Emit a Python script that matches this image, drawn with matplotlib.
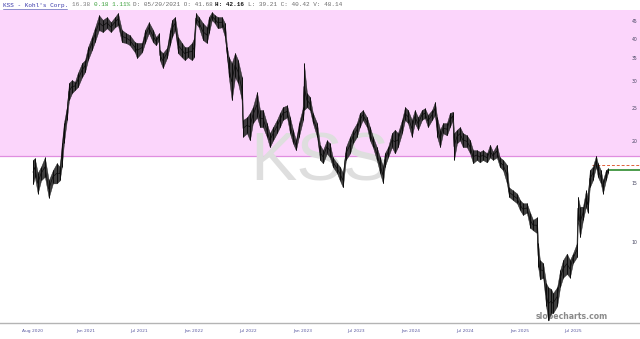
import numpy as np
import pandas as pd
import matplotlib
matplotlib.use('Agg')
import matplotlib.pyplot as plt
from matplotlib.lines import Line2D

# KSS price path (high / low per sample)
dates = [
	'2020-07-08', '2020-07-14', '2020-07-24', '2020-08-04', '2020-08-17', '2020-08-30', '2020-09-13', '2020-09-26',
	'2020-10-06', '2020-10-13', '2020-10-20', '2020-10-30', '2020-11-06', '2020-11-16', '2020-11-26', '2020-12-06',
	'2020-12-20', '2020-12-30', '2021-01-09', '2021-01-22', '2021-02-01', '2021-02-15', '2021-02-28', '2021-03-14',
	'2021-03-27', '2021-04-10', '2021-04-20', '2021-05-03', '2021-05-17', '2021-05-30', '2021-06-16', '2021-06-23',
	'2021-07-10', '2021-07-20', '2021-08-02', '2021-08-16', '2021-08-26', '2021-09-05', '2021-09-08', '2021-09-18',
	'2021-10-02', '2021-10-12', '2021-10-19', '2021-10-29', '2021-11-08', '2021-11-21', '2021-12-01', '2021-12-11',
	'2021-12-25', '2022-01-01', '2022-01-07', '2022-01-17', '2022-01-31', '2022-02-13', '2022-02-20', '2022-03-02',
	'2022-03-12', '2022-03-22', '2022-04-05', '2022-04-15', '2022-04-22', '2022-04-28', '2022-05-08', '2022-05-19',
	'2022-05-29', '2022-06-11', '2022-06-15', '2022-06-28', '2022-07-08', '2022-07-18', '2022-08-01', '2022-08-11',
	'2022-08-21', '2022-09-03', '2022-09-13', '2022-09-24', '2022-10-07', '2022-10-17', '2022-10-27', '2022-11-10',
	'2022-11-20', '2022-11-30', '2022-12-10', '2022-12-20', '2023-01-03', '2023-01-06', '2023-01-16', '2023-01-26',
	'2023-02-05', '2023-02-19', '2023-03-01', '2023-03-11', '2023-03-24', '2023-04-03', '2023-04-13', '2023-04-27',
	'2023-05-07', '2023-05-17', '2023-05-27', '2023-06-10', '2023-06-20', '2023-07-03', '2023-07-13', '2023-07-23',
	'2023-08-06', '2023-08-16', '2023-08-26', '2023-09-08', '2023-09-19', '2023-09-29', '2023-10-05', '2023-10-16',
	'2023-10-29', '2023-11-08', '2023-11-18', '2023-12-02', '2023-12-12', '2023-12-22', '2024-01-04', '2024-01-14',
	'2024-01-25', '2024-02-07', '2024-02-17', '2024-02-27', '2024-03-12', '2024-03-22', '2024-03-29', '2024-04-08',
	'2024-04-18', '2024-05-01', '2024-05-11', '2024-05-21', '2024-05-25', '2024-06-04', '2024-06-14', '2024-06-24',
	'2024-07-07', '2024-07-18', '2024-07-28', '2024-08-10', '2024-08-20', '2024-08-30', '2024-09-13', '2024-09-23',
	'2024-10-03', '2024-10-16', '2024-10-26', '2024-11-06', '2024-11-19', '2024-11-26', '2024-12-09', '2024-12-23',
	'2025-01-02', '2025-01-12', '2025-01-25', '2025-02-05', '2025-02-15', '2025-02-28', '2025-03-04', '2025-03-10',
	'2025-03-21', '2025-03-31', '2025-04-07', '2025-04-17', '2025-04-23', '2025-05-07', '2025-05-17', '2025-05-27',
	'2025-06-09', '2025-06-19', '2025-06-29', '2025-07-13', '2025-07-16', '2025-07-23', '2025-08-02', '2025-08-12',
	'2025-08-18', '2025-08-25', '2025-09-04', '2025-09-15', '2025-09-21', '2025-10-01', '2025-10-08', '2025-10-18',
	'2025-10-25',
]
highs = [
	17.6, 17.8, 16.1, 16.8, 17.9, 15.3, 16.4, 17.2,
	16.8, 19.7, 22.6, 25.2, 29.7, 30.3, 29.9, 31.8,
	34.0, 34.7, 37.9, 40.6, 43.1, 47.1, 45.6, 46.5,
	44.9, 46.5, 47.8, 42.6, 41.7, 41.1, 39.2, 39.0,
	39.0, 42.6, 44.9, 42.6, 40.6, 41.7, 37.1, 36.4,
	37.7, 42.6, 45.6, 46.5, 40.6, 39.0, 37.9, 37.9,
	39.0, 40.3, 47.8, 46.5, 44.6, 43.4, 46.5, 48.1,
	47.1, 46.5, 46.5, 44.6, 37.9, 35.4, 34.0, 36.4,
	34.7, 30.9, 23.1, 23.5, 24.2, 25.2, 27.9, 24.7,
	24.7, 22.6, 21.1, 22.0, 23.1, 24.2, 25.2, 25.5,
	23.5, 21.6, 20.1, 22.6, 25.2, 34.0, 27.7, 27.0,
	24.2, 22.6, 19.5, 18.8, 20.1, 19.7, 17.9, 17.2,
	16.8, 16.1, 19.2, 20.6, 21.6, 22.6, 24.2, 24.7,
	23.5, 22.0, 20.6, 19.2, 17.9, 16.8, 18.4, 19.2,
	21.1, 21.6, 21.1, 23.1, 25.2, 24.7, 23.1, 24.7,
	23.5, 24.7, 25.0, 23.9, 24.7, 26.1, 23.5, 21.6,
	22.6, 22.6, 24.2, 24.4, 21.1, 21.6, 22.0, 21.1,
	20.8, 20.1, 18.8, 18.8, 18.6, 18.8, 18.4, 19.5,
	18.6, 19.5, 17.9, 17.6, 17.0, 14.6, 14.3, 14.0,
	13.4, 13.1, 13.1, 12.3, 11.7, 11.9, 10.0, 8.9,
	8.7, 7.6, 7.4, 7.3, 7.1, 7.4, 8.3, 8.9,
	9.3, 8.9, 9.3, 10.0, 13.7, 12.8, 12.8, 14.3,
	13.7, 16.4, 16.8, 18.1, 17.2, 16.4, 15.3, 16.4,
	16.6,
]
lows = [
	14.9, 15.7, 14.0, 15.3, 15.7, 13.6, 15.0, 15.0,
	15.3, 16.8, 19.7, 23.1, 26.4, 27.7, 28.3, 28.9,
	30.9, 32.0, 34.7, 37.1, 39.2, 42.6, 42.0, 43.1,
	42.0, 43.4, 44.0, 39.2, 39.0, 38.4, 36.6, 35.2,
	36.6, 39.0, 41.7, 39.2, 38.4, 39.8, 34.7, 32.9,
	35.2, 38.4, 40.6, 42.6, 36.4, 35.4, 34.7, 35.4,
	34.7, 35.4, 44.6, 43.4, 39.8, 39.0, 41.7, 45.6,
	44.6, 43.1, 43.4, 40.6, 35.4, 30.9, 26.4, 30.9,
	29.7, 26.4, 20.6, 21.1, 20.1, 22.6, 23.5, 22.0,
	22.0, 20.6, 19.2, 20.1, 21.1, 22.0, 23.1, 23.5,
	21.1, 19.7, 18.8, 20.6, 23.1, 24.7, 25.2, 24.7,
	22.6, 20.6, 17.6, 17.2, 18.4, 17.9, 16.8, 16.1,
	15.3, 14.6, 17.6, 18.4, 19.7, 20.6, 22.0, 23.1,
	22.0, 20.1, 19.2, 17.6, 16.1, 15.0, 16.8, 17.9,
	19.2, 18.4, 19.2, 21.1, 23.1, 22.6, 20.6, 22.6,
	21.6, 23.1, 23.4, 22.0, 23.1, 23.9, 20.6, 19.2,
	21.1, 20.8, 22.0, 23.1, 17.6, 19.7, 20.1, 19.2,
	19.2, 18.4, 17.2, 17.6, 17.3, 17.6, 17.3, 17.9,
	17.6, 17.9, 16.8, 16.4, 15.0, 13.7, 13.4, 13.1,
	12.5, 12.1, 12.3, 11.1, 10.9, 10.7, 8.5, 7.8,
	7.9, 6.5, 5.9, 6.2, 6.2, 6.5, 7.4, 7.9,
	8.1, 7.9, 8.7, 9.1, 11.7, 10.4, 11.7, 12.8,
	12.3, 14.6, 15.3, 16.8, 15.7, 15.0, 14.0, 15.3,
	16.1,
]

last_price = 16.38
zone_level = 18.06
alert_level = 17.0
alert_start = '2025-08-31'

y_ticks = [10, 15, 20, 25, 30, 35, 40, 45]
x_tick_dates = ['2020-07-07', '2021-01-01', '2021-07-01', '2022-01-01', '2022-07-01', '2023-01-01',
	'2023-07-01', '2024-01-01', '2024-07-01', '2025-01-01', '2025-07-01']
x_tick_labels = ['Aug 2020', 'Jan 2021', 'Jul 2021', 'Jan 2022', 'Jul 2022', 'Jan 2023',
	'Jul 2023', 'Jan 2024', 'Jul 2024', 'Jan 2025', 'Jul 2025']

title = "KSS - Kohl's Corp."
header = [
	('16.38 ', '#7a7a7a', 'normal'),
	('0.18 1.11% ', '#3aa03a', 'normal'),
	('D: 05/20/2021 O: 41.68 ', '#6a6a6a', 'normal'),
	('H: 42.16 ', '#111111', 'bold'),
	('L: 39.21 C: 40.42 V: 48.14', '#6a6a6a', 'normal'),
]

x = pd.to_datetime(dates)
hi = np.array(highs)
lo = np.array(lows)

fig = plt.figure(figsize=(6.4, 3.39), dpi=100)
ax = fig.add_axes([0, 16 / 339, 1, 313 / 339])
ax.set_yscale('log')
ax.set_ylim(5.80, 48.8)
ax.set_xlim(pd.Timestamp('2020-03-19'), pd.Timestamp('2026-02-10'))

# pink zone above the level
ax.axhspan(zone_level, 48.8, color='#fbd5fb', lw=0, zorder=0)
ax.axhline(zone_level, color='#e08ee0', lw=0.9, zorder=1)

# watermark and site name sit behind the bars
ax.text(0.5, 0.512, 'KSS', transform=ax.transAxes, ha='center', va='center',
	fontsize=50, family='Liberation Sans', color='#dedede', zorder=1.5)
ax.text(0.894, 0.02, 'slopecharts.com', transform=ax.transAxes, ha='center', va='center',
	fontsize=5.6, family='DejaVu Sans', fontweight='bold', color='#8a8a8a', zorder=1.5)

# price bars
ax.fill_between(x, lo, hi, color='#2a2a2a', alpha=0.9, lw=0.3, edgecolor='#1a1a1a', zorder=3)
ax.vlines(x, lo, hi, color='#0c0c0c', lw=0.7, zorder=3)
ax.plot(x, (hi * lo) ** 0.5, color='#0c0c0c', lw=0.5, zorder=3)

ax.hlines(alert_level, pd.Timestamp(alert_start), pd.Timestamp('2026-02-10'),
	color='#e0603a', lw=0.7, linestyles=(0, (3, 2)), zorder=2)
ax.hlines(last_price, x[-1], pd.Timestamp('2026-02-10'), color='#2e8b2e', lw=1.2, zorder=2)

# price labels on the right, inside the plot
for v in y_ticks:
	ax.text(0.991, v, str(v), transform=ax.get_yaxis_transform(), ha='center', va='center',
		fontsize=3.3, color='#444460')
# date labels under the axis line
for d, lab in zip(x_tick_dates, x_tick_labels):
	ax.text(pd.Timestamp(d), -0.026, lab, transform=ax.get_xaxis_transform(), ha='center', va='center',
		fontsize=3.2, color='#5a5aa0', clip_on=False)

ax.set_xticks([])
ax.set_yticks([])
ax.minorticks_off()
for s in ['top', 'left', 'right']:
	ax.spines[s].set_visible(False)
ax.spines['bottom'].set_color('#b4b4b4')
ax.spines['bottom'].set_linewidth(1.0)

# header line
cw = 0.6 * 4.3 * 100 / 72 / 640
ty = 1 - 5 / 339
fig.text(3 / 640, ty, title, family='Liberation Mono', fontsize=4.3, color='#3a3aaa', va='center')
fig.add_artist(Line2D([3 / 640, 3 / 640 + len(title) * cw], [1 - 8.5 / 339] * 2,
	transform=fig.transFigure, color='#3a3aaa', lw=0.4))
pos = 72 / 640
for seg, col, wt in header:
	fig.text(pos, ty, seg, family='Liberation Mono', fontsize=4.3, color=col, fontweight=wt, va='center')
	pos += len(seg) * cw

fig.savefig('out.png', dpi=100)
